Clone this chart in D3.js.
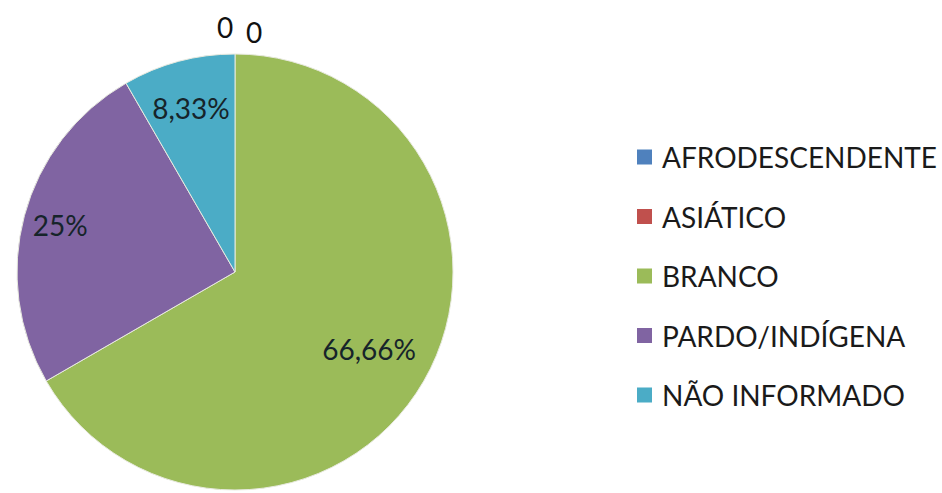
<!DOCTYPE html>
<html>
<head>
<meta charset="utf-8">
<script src="https://cdn.jsdelivr.net/npm/d3@7/dist/d3.min.js"></script>
<style>
  html, body { margin: 0; padding: 0; background: #ffffff; }
  svg { display: block; }
  text { font-family: Lato, "Open Sans", sans-serif; }
</style>
</head>
<body>
<svg id="chart" width="942" height="493"></svg>
<script>
// ---- data ----
const categories = ["AFRODESCENDENTE", "ASIÁTICO", "BRANCO", "PARDO/INDÍGENA", "NÃO INFORMADO"];
const values = [0, 0, 66.66, 25, 8.33];
const valueLabels = ["0", "0", "66,66%", "25%", "8,33%"];
const colors = ["#4F81BD", "#C0504D", "#9BBB59", "#8064A2", "#4BACC6"];

// ---- layout ----
const W = 942, H = 493;
const cx = 235, cy = 272, R = 218;
const labelRadiusFactor = [1.11, 1.11, 0.71, 0.83, 0.78];
const zeroDx = [-10, 19];
const zeroDy = [-3, 2];

const svg = d3.select("#chart");
const g = svg.append("g").attr("transform", `translate(${cx},${cy})`);

const pie = d3.pie().sort(null).value(d => d.v);
const data = categories.map((c, i) => ({ c, v: values[i], i }));
const arcs = pie(data);
const arc = d3.arc().innerRadius(0).outerRadius(R);

g.selectAll("path.slice")
  .data(arcs.filter(a => a.data.v > 0))
  .join("path")
  .attr("class", "slice")
  .attr("d", arc)
  .attr("fill", d => colors[d.data.i])
  .attr("stroke", "#e8eadf")
  .attr("stroke-width", 1);

// labels
arcs.forEach((a, k) => {
  const i = a.data.i;
  const mid = (a.startAngle + a.endAngle) / 2;
  const r = R * labelRadiusFactor[i];
  let x = Math.sin(mid) * r;
  let y = -Math.cos(mid) * r;
  if (a.data.v === 0) {
    x += zeroDx[i];
    y += zeroDy[i];
  }
  g.append("text")
    .attr("x", x)
    .attr("y", y)
    .attr("text-anchor", "middle")
    .attr("dominant-baseline", "central")
    .attr("font-size", 28)
    .attr("fill", a.data.v === 0 ? "#111" : "#16242a")
    .text(valueLabels[i]);
});

// legend
const legX = 637, legY0 = 157, legStep = 59.5, sq = 15;
const leg = svg.append("g");
categories.forEach((c, i) => {
  const y = legY0 + i * legStep;
  leg.append("rect")
    .attr("x", legX)
    .attr("y", y - sq / 2)
    .attr("width", sq)
    .attr("height", sq)
    .attr("fill", colors[i]);
  leg.append("text")
    .attr("x", legX + 25)
    .attr("y", y)
    .attr("dominant-baseline", "central")
    .attr("font-size", 28)
    .attr("fill", "#1a1a1a")
    .text(c);
});
</script>
</body>
</html>
